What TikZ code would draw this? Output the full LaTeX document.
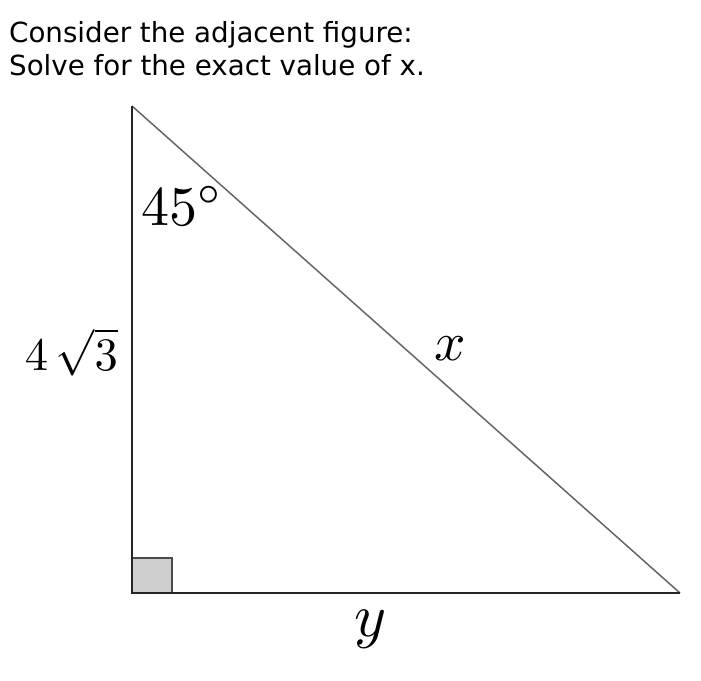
\documentclass[tikz,border=0pt]{standalone}
\usepackage{fontspec}
\setmainfont{DejaVu Sans}
\begin{document}
\begin{tikzpicture}[x=1pt,y=-1pt,
  prompt/.style={anchor=base west, inner sep=0pt, font=\fontsize{27.7}{33}\selectfont},
  leg/.style={draw=black!85, line width=2pt},
  hyp/.style={draw=black!60, line width=1.5pt},
  lbl/.style={inner sep=0pt, font=\normalsize, transform shape}]
\useasboundingbox (0,0) rectangle (701,680);
\node[prompt] (l1) at (9,42) {Consider the adjacent figure:};
\node[prompt] (l2) at (9,75) {Solve for the exact value of x.};
\coordinate (A) at (132,106);
\coordinate (B) at (132,593);
\coordinate (C) at (680,593);
\filldraw[fill=black!19, draw=black!70, line width=2pt] (132,558) rectangle (172,593);
\draw[hyp] (A) -- (C);
\draw[leg] (A) -- (B) -- (C);
\node[lbl, anchor=base west, scale=5.6] (ang) at (140,225) {$45^\circ$};
\node[lbl, scale=5.5] (xl) at (450,349) {$x$};
\node[lbl, scale=6.1] (yl) at (371,629) {$y$};
\node[lbl, anchor=base west, scale=4.65] (sl) at (24,370) {$4\,\sqrt{3}$};
\end{tikzpicture}
\end{document}
